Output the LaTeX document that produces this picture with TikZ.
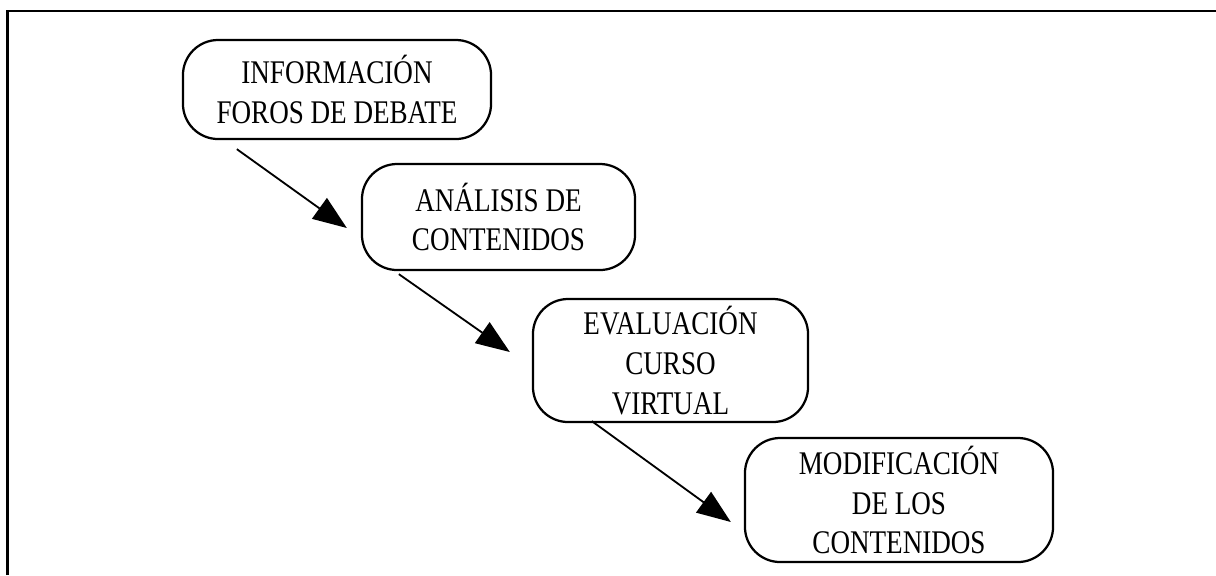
\documentclass[tikz,border=0pt]{standalone}
\usepackage{fontspec}
\setmainfont[FakeStretch=0.82]{Liberation Serif}
\usetikzlibrary{arrows.meta}

\begin{document}
\begin{tikzpicture}[x=0.025cm, y=-0.025cm,
  etapa/.style={draw, rounded corners=25pt, line width=1.6pt, align=center, inner sep=0pt, font=\fontsize{23.5}{28.4}\selectfont},
  flecha/.style={-{Triangle[length=24pt,width=18pt]}, line width=1.3pt}]
\useasboundingbox (0,0) rectangle (1216,575);
\draw[line width=1.6pt] (7.5,575) -- (7.5,11) -- (1216,11);
\node[etapa, minimum width=7.7cm, minimum height=2.475cm] (info) at (337,89.5) {INFORMACIÓN\\FOROS DE DEBATE};
\node[etapa, minimum width=6.825cm, minimum height=2.65cm] (analisis) at (498.5,217) {ANÁLISIS DE\\CONTENIDOS};
\node[etapa, minimum width=6.875cm, minimum height=3.075cm] (evaluacion) at (670.5,360.5) {EVALUACIÓN\\CURSO\\VIRTUAL};
\node[etapa, minimum width=7.7cm, minimum height=3.1cm] (modificacion) at (899,500) {MODIFICACIÓN\\DE LOS\\CONTENIDOS};
\draw[flecha] ([shift={(55,9)}]info.south west) -- ([shift={(-14,11)}]analisis.west);
\draw[flecha] ([shift={(38,3)}]analisis.south west) -- ([shift={(-22,-8.5)}]evaluacion.west);
\draw[flecha] ([shift={(60,-2)}]evaluacion.south west) -- ([shift={(-13,22)}]modificacion.west);
\end{tikzpicture}
\end{document}
